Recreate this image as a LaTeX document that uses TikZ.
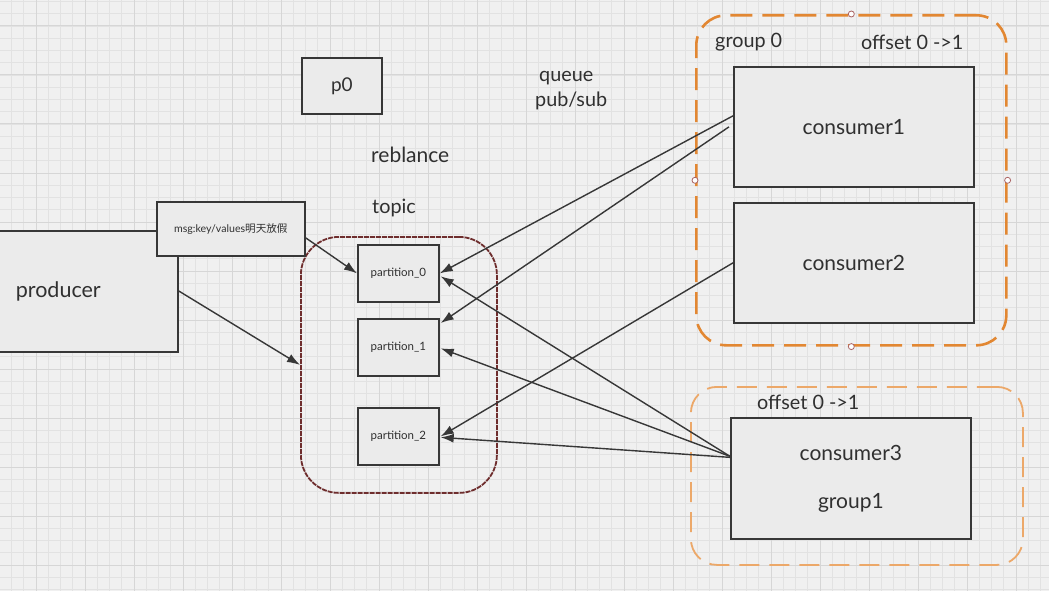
\documentclass[tikz,border=0pt]{standalone}
\usepackage{fontspec}
\setmainfont{Lato}
\newfontfamily\cjk{Noto Sans CJK SC}
\usetikzlibrary{arrows.meta,positioning,calc}
\definecolor{bgc}{RGB}{240,240,240}
\definecolor{gridminor}{RGB}{226,226,226}
\definecolor{gridmajor}{RGB}{214,214,214}
\definecolor{boxfill}{RGB}{235,235,235}
\definecolor{boxline}{RGB}{55,55,55}
\definecolor{txtc}{RGB}{48,48,48}
\definecolor{orangeA}{RGB}{226,135,50}
\definecolor{orangeB}{RGB}{236,168,105}
\definecolor{topicred}{RGB}{110,45,45}
\definecolor{handle}{RGB}{170,100,100}
\begin{document}
\begin{tikzpicture}[x=1pt,y=-1pt,
  box/.style={draw=boxline,fill=boxfill,line width=1.7pt,text=txtc,inner sep=0pt,anchor=north west},
  txt/.style={text=txtc,inner sep=0pt,anchor=west},
  arr/.style={draw=boxline,line width=1.4pt,-{Latex[length=13pt,width=9pt]}},
  grp0/.style={draw=orangeA,line width=2.6pt,dash pattern=on 22pt off 10pt,rounded corners=30pt,fill=none},
  grp1/.style={draw=orangeB,line width=1.8pt,dash pattern=on 20pt off 10pt,rounded corners=26pt,fill=none},
  hnd/.style={circle,draw=handle,fill=white,line width=0.8pt,minimum size=6pt,inner sep=0pt}
]
\useasboundingbox (0,0) rectangle (1049,591);
\fill[bgc] (0,0) rectangle (1049,591);
\foreach \i in {0,...,88} \draw[gridminor,line width=0.8pt] ({-13+12.25*\i},0) -- ({-13+12.25*\i},591);
\foreach \i in {0,...,50} \draw[gridminor,line width=0.8pt] (0,{-23+12.25*\i}) -- (1049,{-23+12.25*\i});
\foreach \i in {0,...,22} \draw[gridmajor,line width=1pt] ({-13+49*\i},0) -- ({-13+49*\i},591);
\foreach \i in {0,...,13} \draw[gridmajor,line width=1pt] (0,{-23+49*\i}) -- (1049,{-23+49*\i});

% groups
\node[grp0,minimum width=310pt,minimum height=330pt,anchor=north west,inner sep=0pt] (g0) at (695,14) {};
\node[grp1,minimum width=332pt,minimum height=178pt,anchor=north west,inner sep=0pt] (g1) at (690,386) {};
\foreach \a in {north,south,east,west} \node[hnd] at (g0.\a) {};

% topic
\node[draw=topicred,line width=1.8pt,dash pattern=on 5pt off 1pt,rounded corners=38pt,minimum width=196pt,minimum height=256pt,anchor=north west,inner sep=0pt] (topic) at (300,236) {};

% boxes
\node[box,minimum height=121pt,text width=137pt,inner xsep=25pt,align=left,font=\fontsize{21.5pt}{26pt}\selectfont] (prod) at (-10,230) {producer};
\node[box,minimum width=148pt,minimum height=54pt,font=\fontsize{10.6pt}{12pt}\selectfont] (msg) at (156,201) {msg:key/values{\cjk 明天放假}};
\node[box,minimum width=80pt,minimum height=56pt,font=\fontsize{19pt}{23pt}\selectfont] (p0box) at (301,57) {p0};
\node[box,minimum width=81pt,minimum height=57pt,font=\fontsize{11.5pt}{14pt}\selectfont] (pa0) at (357,244) {partition\_0};
\node[box,minimum width=81pt,minimum height=57pt,font=\fontsize{11.5pt}{14pt}\selectfont] (pa1) at (357,318) {partition\_1};
\node[box,minimum width=81pt,minimum height=57pt,font=\fontsize{11.5pt}{14pt}\selectfont] (pa2) at (357,407) {partition\_2};
\node[box,minimum width=240pt,minimum height=120pt,font=\fontsize{21pt}{25pt}\selectfont] (c1) at (733,66) {consumer1};
\node[box,minimum width=240pt,minimum height=120pt,font=\fontsize{21pt}{25pt}\selectfont] (c2) at (733,202) {consumer2};
\node[box,minimum width=240pt,minimum height=121pt,align=center,font=\fontsize{21pt}{25pt}\selectfont] (c3) at (730,417) {consumer3\\[23pt]group1};

% free texts
\begin{scope}[font=\fontsize{19.8pt}{24pt}\selectfont]
\node[txt] (queue) at (539,78) {queue};
\node[txt] (pubsub) at (535,101) {pub/sub};
\node[txt,font=\fontsize{21pt}{25pt}\selectfont] (rebl) at (371,155) {reblance};
\node[txt] (topiclbl) at (372,208) {topic};
\node[txt] (g0lbl) at (715,42) {group 0};
\node[txt] (g0off) at (861,42) {offset 0 ->1};
\node[txt] (g1off) at (757,402) {offset 0 ->1};
\end{scope}

% connectors
\draw[arr] ([yshift=-9pt]msg.east) -- (pa0.west);
\draw[arr] ([xshift=-1pt,yshift=1pt]prod.east) -- (topic.west);
\draw[arr] ([yshift=11pt]c1.west) -- (pa0.east);
\draw[arr] ([xshift=-4pt]c1.west) -- ([xshift=1pt,yshift=-5pt]pa1.north east);
\draw[arr] (c2.west) -- ([xshift=1pt]pa2.east);
\draw[arr] ([yshift=22pt]c3.west) -- ([xshift=1pt,yshift=-3pt]pa0.east);
\draw[arr] ([yshift=22pt]c3.west) -- ([xshift=1pt,yshift=-1pt]pa1.east);
\draw[arr] ([yshift=21pt]c3.west) -- ([xshift=1pt,yshift=-1pt]pa2.east);
\end{tikzpicture}
\end{document}
